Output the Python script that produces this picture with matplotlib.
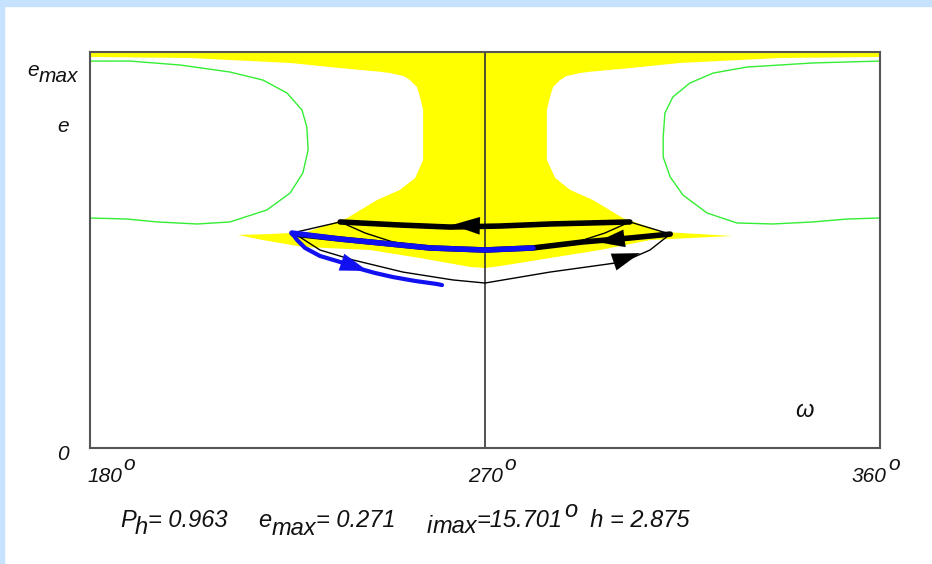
import matplotlib
matplotlib.use("Agg")
import matplotlib.pyplot as plt
from matplotlib.patches import Rectangle

# figure size in pixels
W, H = 932, 564

# yellow region boundary (omega in degrees, e)
yellow_w = [180.0, 360.0, 360.0, 337.2, 314.4, 303.0, 294.0, 291.6, 288.5, 287.1, 285.5, 284.8, 284.1, 284.1,
            286.0, 289.4, 294.6, 301.4, 310.6, 319.0, 326.3,
            316.7, 307.6, 296.2, 284.8, 273.4, 270.0, 266.6, 255.2, 243.8, 228.5, 219.4, 213.7,
            221.0, 229.4, 238.6, 245.4, 250.6, 254.1, 255.9, 255.9, 255.2, 254.5, 252.9, 251.5, 248.4,
            246.0, 237.0, 225.6, 202.8, 180.0]
yellow_e = [0.2710, 0.2710, 0.2676, 0.2669, 0.2635, 0.2600, 0.2575, 0.2566, 0.2545, 0.2518, 0.2470, 0.2402, 0.2313, 0.1971,
            0.1848, 0.1766, 0.1697, 0.1574, 0.1478, 0.1464, 0.1451,
            0.1437, 0.1423, 0.1355, 0.1300, 0.1245, 0.1232, 0.1239, 0.1300, 0.1355, 0.1376, 0.1423, 0.1458,
            0.1464, 0.1478, 0.1574, 0.1697, 0.1766, 0.1848, 0.1971, 0.2313, 0.2402, 0.2470, 0.2518, 0.2545, 0.2566,
            0.2575, 0.2600, 0.2635, 0.2669, 0.2676]

# green level curves
green_left_w = [180.0, 189.1, 200.5, 211.9, 219.4, 224.9, 228.3, 229.4, 229.7, 228.5, 225.6,
                220.3, 211.9, 204.4, 195.3, 188.4, 180.0]
green_left_e = [0.2648, 0.2648, 0.2621, 0.2573, 0.2518, 0.2429, 0.2313, 0.2197, 0.2039, 0.1882, 0.1745,
                0.1629, 0.1547, 0.1533, 0.1547, 0.1567, 0.1574]
green_right_w = [360.0, 344.7, 329.7, 322.0, 316.7, 312.8, 311.0, 310.6, 310.6, 312.2, 315.1,
                 320.6, 327.4, 335.6, 344.7, 352.5, 360.0]
green_right_e = [0.2648, 0.2635, 0.2607, 0.2566, 0.2498, 0.2402, 0.2293, 0.2128, 0.1991, 0.1855, 0.1731,
                 0.1608, 0.1540, 0.1533, 0.1547, 0.1567, 0.1574]

# thin black trajectories
outer_w = [227.8, 232.4, 239.9, 251.3, 262.7, 270.0, 284.8, 301.4, 307.6, 312.2]
outer_e = [0.1444, 0.1355, 0.1287, 0.1204, 0.1150, 0.1129, 0.1204, 0.1273, 0.1355, 0.1464]
link_left_w, link_left_e = [226.0, 237.0], [0.1471, 0.1547]
link_right_w, link_right_e = [303.0, 312.2], [0.1547, 0.1464]
inner_left_w = [237.0, 242.7, 249.0, 257.5]
inner_left_e = [0.1547, 0.1471, 0.1410, 0.1369]
inner_right_w = [303.0, 297.3, 291.0, 282.5]
inner_right_e = [0.1547, 0.1471, 0.1410, 0.1369]

# thick black trajectories
lower_w = [226.3, 237.0, 246.1, 257.5, 270.0, 280.9, 292.3, 303.0, 312.2]
lower_e = [0.1464, 0.1430, 0.1403, 0.1369, 0.1355, 0.1369, 0.1410, 0.1437, 0.1464]
upper_w = [237.0, 250.6, 262.0, 273.4, 284.8, 303.0]
upper_e = [0.1547, 0.1526, 0.1512, 0.1519, 0.1533, 0.1547]

# blue trajectory
blue_top_w = [226.0, 237.0, 246.1, 257.5, 270.0, 280.9]
blue_top_e = [0.1471, 0.1430, 0.1403, 0.1369, 0.1355, 0.1369]
blue_low_w = [226.0, 227.2, 229.0, 232.4, 237.0, 240.8, 244.9, 249.0, 254.1, 259.1, 260.2]
blue_low_e = [0.1471, 0.1423, 0.1369, 0.1314, 0.1273, 0.1232, 0.1198, 0.1170, 0.1143, 0.1122, 0.1115]

# arrow heads: (tail, head)
black_arrows = [((271.1, 0.1519), (262.5, 0.1526)),
                ((304.2, 0.1444), (295.5, 0.1410)),
                ((297.3, 0.1252), (305.3, 0.1334))]
blue_arrows = [((235.8, 0.1287), (243.3, 0.1211))]

fig = plt.figure(figsize=(W / 100, H / 100), dpi=100)
fig.patch.set_facecolor('white')
fig.patches.append(Rectangle((0, 1 - 6 / H), 1, 6 / H, transform=fig.transFigure,
                             color='#c6e2fe', zorder=0))
fig.patches.append(Rectangle((0, 0), 4 / W, 1, transform=fig.transFigure,
                             color='#c6e2fe', zorder=0))

ax = fig.add_axes([90 / W, 1 - 448 / H, 790 / W, 396 / H])
ax.set_xlim(180, 360)
ax.set_ylim(0, 0.271)
ax.set_xticks([])
ax.set_yticks([])
for s in ax.spines.values():
    s.set_color('#555555')
    s.set_linewidth(1.5)

ax.fill(yellow_w, yellow_e, color='#ffff00', lw=0, zorder=1)
ax.plot(green_left_w, green_left_e, color='#33ee33', lw=1, zorder=2)
ax.plot(green_right_w, green_right_e, color='#33ee33', lw=1, zorder=2)
ax.axvline(270, color='#333333', lw=1.2, zorder=2)

for xs, ys in [(outer_w, outer_e), (link_left_w, link_left_e), (link_right_w, link_right_e),
               (inner_left_w, inner_left_e), (inner_right_w, inner_right_e)]:
    ax.plot(xs, ys, color='black', lw=1, zorder=3)
ax.plot(lower_w, lower_e, color='black', lw=4, zorder=4, solid_capstyle='round')
ax.plot(upper_w, upper_e, color='black', lw=4, zorder=4, solid_capstyle='round')
ax.plot(blue_top_w, blue_top_e, color='#1010f0', lw=4, zorder=5, solid_capstyle='round')
ax.plot(blue_low_w, blue_low_e, color='#1010f0', lw=3, zorder=5, solid_capstyle='round')

arrow_style = '-|>,head_length=1.1,head_width=0.35'
for (tail, head) in black_arrows:
    ax.annotate('', xy=head, xytext=tail, zorder=6,
                arrowprops=dict(arrowstyle=arrow_style, color='black', lw=0.1,
                                mutation_scale=18, shrinkA=0, shrinkB=0))
for (tail, head) in blue_arrows:
    ax.annotate('', xy=head, xytext=tail, zorder=6,
                arrowprops=dict(arrowstyle=arrow_style, color='#1010f0', lw=0.1,
                                mutation_scale=18, shrinkA=0, shrinkB=0))

renderer = fig.canvas.get_renderer()


def txt(x, y, s, size=15):
    t = fig.text(x / W, 1 - y / H, s, fontsize=size, fontstyle='italic',
                 family='Liberation Sans', va='baseline', ha='left', color='#111111')
    return t.get_window_extent(renderer).x1


def run(x, y, pieces, size):
    # pieces: (text, vertical offset in px, extra gap before)
    for s, dy, gap in pieces:
        x = txt(x + gap, y + dy, s, size)
    return x


# y labels
run(27, 76, [('e', 0, 0), ('max', 6, 0)], 15)
txt(57, 132, 'e')
txt(57, 460, '0')

# x labels
for x0, lab in [(87, '180'), (468, '270'), (852, '360')]:
    run(x0, 482, [(lab, 0, 0), ('o', -12, 1)], 15)
txt(795, 417, 'ω', 17)

# parameter line
run(120, 527, [('P', 0, 0), ('h', 7, -1), ('= 0.963', 0, 0)], 17)
run(258, 527, [('e', 0, 0), ('max', 8, 0), ('= 0.271', 0, 0)], 17)
run(427, 527, [('i', 6, 0), ('max', 6, 0), ('=15.701', 0, 0), ('o', -10, 1), ('  h = 2.875', 0, 0)], 17)

fig.savefig('out.png', dpi=100)
